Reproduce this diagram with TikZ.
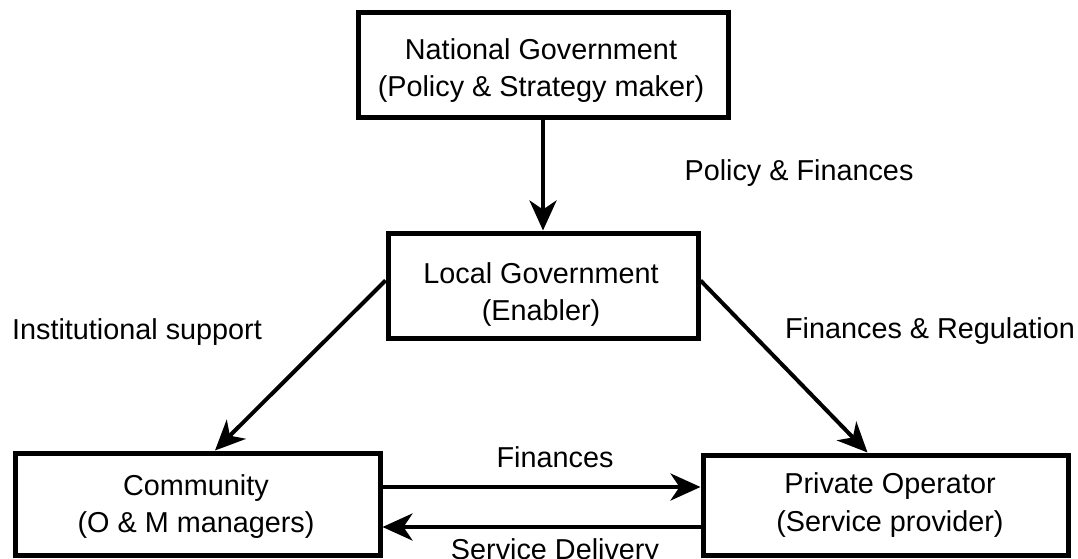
\documentclass[tikz,border=0pt]{standalone}
\usepackage{fontspec}
\setmainfont{Liberation Sans}
\usetikzlibrary{arrows.meta}
\begin{document}
\begin{tikzpicture}[x=1pt,y=-1pt,
  box/.style={draw, line width=5pt, inner sep=0pt, fill=white},
  txt/.style={anchor=base, inner sep=0pt, font=\fontsize{28.8}{36}\selectfont},
  arr/.style={line width=4pt, -{Stealth[length=30pt,width=27pt,inset=9pt]}}]
  \useasboundingbox (0,0) rectangle (1078,559);
  \clip (0,0) rectangle (1078,559);
  \fill[white] (0,0) rectangle (1078,559);

  % the four actors
  \node[box, minimum width=370pt, minimum height=105pt] (nat) at (543,65.5) {};
  \node[box, minimum width=310pt, minimum height=105pt] (loc) at (543,285.5) {};
  \node[box, minimum width=365pt, minimum height=102pt] (com) at (197.5,504) {};
  \node[box, minimum width=365pt, minimum height=100pt] (pri) at (885.5,505) {};

  \node[txt] (nat1) at (541,60) {National Government};
  \node[txt] (nat2) at (541,97) {(Policy \& Strategy maker)};
  \node[txt] (loc1) at (541,283) {Local Government};
  \node[txt] (loc2) at (541,320) {(Enabler)};
  \node[txt] (com1) at (196,495) {Community};
  \node[txt] (com2) at (196,532) {(O \& M managers)};
  \node[txt] (pri1) at (890,493) {Private Operator};
  \node[txt] (pri2) at (890,531) {(Service provider)};

  % flows between actors
  \draw[arr] (nat.south) -- (loc.north);
  \draw[arr] ([yshift=5pt]loc.west) -- ([xshift=17.5pt]com.north);
  \draw[arr] ([yshift=5pt]loc.east) -- ([xshift=-18pt]pri.north);
  \draw[arr] ([yshift=17pt]com.east) -- ([yshift=18pt]pri.west);
  \draw[arr] ([yshift=-22pt]pri.west) -- ([yshift=-23pt]com.east);

  % flow labels
  \node[txt] (lpf) at (799,180) {Policy \& Finances};
  \node[txt] (lis) at (137,339) {Institutional support};
  \node[txt] (lfr) at (930,338) {Finances \& Regulation};
  \node[txt] (lfi) at (555,467) {Finances};
  \node[txt] (lsd) at (555,559) {Service Delivery};
\end{tikzpicture}
\end{document}
